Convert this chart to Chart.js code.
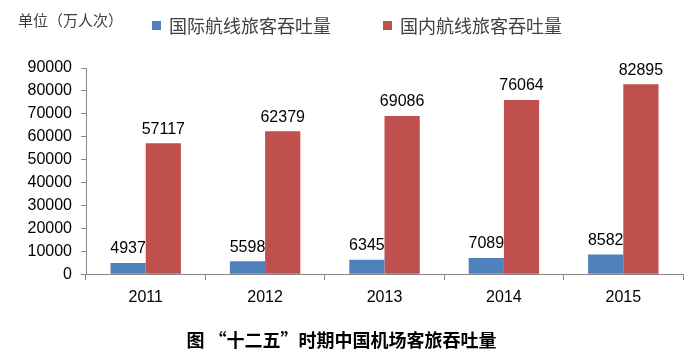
<!DOCTYPE html>
<html lang="zh">
<head>
    <meta charset="UTF-8">
    <title>“十二五”时期中国机场客旅吞吐量</title>
    <script src="https://cdn.jsdelivr.net/npm/chart.js"></script>
    <style>
        body { margin: 0; background: #fff; }
        .wrap { width: 700px; height: 363px; }
    </style>
</head>
<body>
    <div class="wrap">
        <canvas id="grafico" width="700" height="363"></canvas>
    </div>
    <script>
        // dados
        var anos = ['2011', '2012', '2013', '2014', '2015'];
        var internacional = [4937, 5598, 6345, 7089, 8582];
        var domestico = [57117, 62379, 69086, 76064, 82895];
        var unidade = '单位（万人次）';
        var legendas = ['国际航线旅客吞吐量', '国内航线旅客吞吐量'];
        var titulo = '图 “十二五”时期中国机场客旅吞吐量';

        var fonteNum = "'Liberation Sans', Arial, sans-serif";
        var fonteCJK = "'Noto Sans CJK SC', sans-serif";

        // rótulos em cima das barras, texto de unidade e legenda
        var rotulos = {
            id: 'rotulos',
            afterDatasetsDraw: function (chart) {
                var ctx = chart.ctx;
                ctx.save();
                ctx.fillStyle = '#000';
                ctx.font = '16px ' + fonteNum;
                ctx.textAlign = 'center';
                ctx.textBaseline = 'bottom';
                chart.data.datasets.forEach(function (ds, i) {
                    chart.getDatasetMeta(i).data.forEach(function (bar, j) {
                        ctx.fillText(ds.data[j], bar.x, bar.y - 6);
                    });
                });

                ctx.fillStyle = '#404040';
                ctx.textAlign = 'left';
                ctx.textBaseline = 'middle';
                ctx.font = '15px ' + fonteCJK;
                ctx.fillText(unidade, 18, 20);

                // legenda
                ctx.font = '18px ' + fonteCJK;
                var xs = [152, 383];
                chart.data.datasets.forEach(function (ds, i) {
                    ctx.fillStyle = ds.backgroundColor;
                    ctx.fillRect(xs[i], 21, 9, 9);
                    ctx.fillStyle = '#404040';
                    ctx.fillText(ds.label, xs[i] + 17, 26);
                });
                ctx.restore();
            }
        };

        var ctx = document.getElementById('grafico').getContext('2d');
        var grafico = new Chart(ctx, {
            type: 'bar',
            data: {
                labels: anos,
                datasets: [{
                    label: legendas[0],
                    data: internacional,
                    backgroundColor: '#4F81BD'
                }, {
                    label: legendas[1],
                    data: domestico,
                    backgroundColor: '#C0504D'
                }]
            },
            options: {
                responsive: false,
                animation: false,
                layout: { padding: { left: 0, right: 17, top: 68, bottom: 6 } },
                datasets: {
                    bar: { categoryPercentage: 0.59, barPercentage: 1 }
                },
                plugins: {
                    legend: { display: false },
                    title: {
                        display: true,
                        text: titulo,
                        position: 'bottom',
                        color: '#000',
                        font: { family: fonteCJK, size: 18, weight: 'bold' },
                        padding: { top: 14, bottom: 6 }
                    },
                    tooltip: { enabled: false }
                },
                scales: {
                    x: {
                        grid: {
                            display: true,
                            drawOnChartArea: false,
                            offset: true,
                            color: '#888',
                            tickLength: 6
                        },
                        border: { color: '#888' },
                        ticks: { color: '#000', font: { family: fonteNum, size: 16 }, padding: 8 }
                    },
                    y: {
                        min: 0,
                        max: 90000,
                        afterFit: function (scale) { scale.width = 86; },
                        grid: {
                            display: true,
                            drawOnChartArea: false,
                            color: '#888',
                            tickLength: 5
                        },
                        border: { color: '#888' },
                        ticks: {
                            stepSize: 10000,
                            autoSkip: false,
                            color: '#000',
                            font: { family: fonteNum, size: 16 },
                            padding: 9,
                            callback: function (v) { return String(v); }
                        }
                    }
                }
            },
            plugins: [rotulos]
        });
    </script>
</body>
</html>
